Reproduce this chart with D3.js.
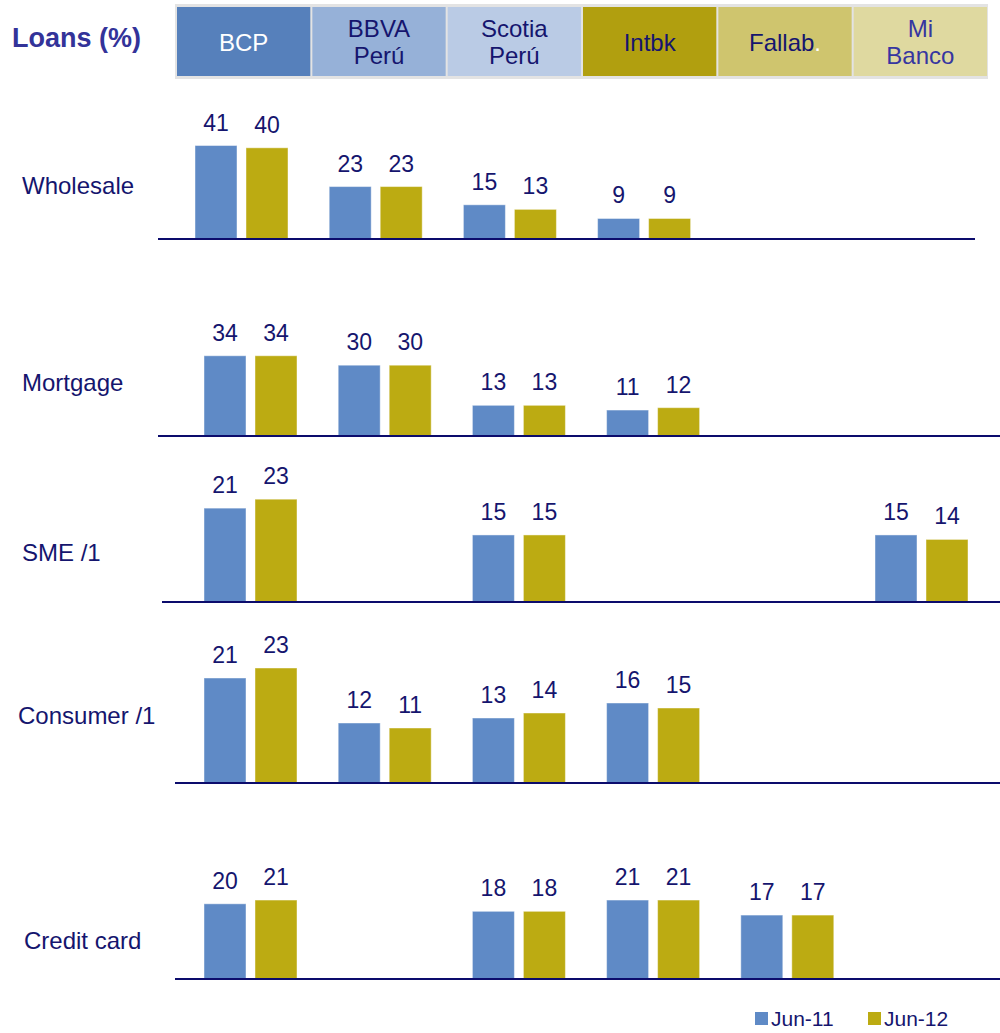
<!DOCTYPE html>
<html>
<head>
<meta charset="utf-8">
<script src="https://cdn.jsdelivr.net/npm/d3@7"></script>
<style>
  html, body { margin: 0; padding: 0; background: #fff; }
  svg { display: block; font-family: "Liberation Sans", Arial, sans-serif; }
</style>
</head>
<body>
<div id="chart"></div>
<script>
// banks in column order
const banks = ['BCP', 'BBVA Perú', 'Scotia Perú', 'Intbk', 'Fallab.', 'Mi Banco'];
const series = ['Jun-11', 'Jun-12'];
const segments = ['Wholesale', 'Mortgage', 'SME /1', 'Consumer /1', 'Credit card'];

// market share per bank (null = not shown)
const wholesaleJun11 = [41, 23, 15, 9, null, null];
const wholesaleJun12 = [40, 23, 13, 9, null, null];
const mortgageJun11 = [34, 30, 13, 11, null, null];
const mortgageJun12 = [34, 30, 13, 12, null, null];
const smeJun11 = [21, null, 15, null, null, 15];
const smeJun12 = [23, null, 15, null, null, 14];
const consumerJun11 = [21, 12, 13, 16, null, null];
const consumerJun12 = [23, 11, 14, 15, null, null];
const creditJun11 = [20, null, 18, 21, 17, null];
const creditJun12 = [21, null, 18, 21, 17, null];

const values = [
  [wholesaleJun11, wholesaleJun12],
  [mortgageJun11, mortgageJun12],
  [smeJun11, smeJun12],
  [consumerJun11, consumerJun12],
  [creditJun11, creditJun12]
];

const navy = '#15156e';
const barColors = ['#5f8ac6', '#bcab12'];
const headerFill = ['#5680bb', '#96b1d8', '#bacbe5', '#b19f0f', '#cfc56e', '#dfd9a0'];

// each row is its own little chart with its own scale
const rowLayout = [
  { baseline: 239, ppu: 2.28, shift: -9, x0: 158, x1: 975, lx: 22, ly: 194 },
  { baseline: 436, ppu: 2.36, shift: 0, x0: 158, x1: 1000, lx: 22, ly: 391 },
  { baseline: 602, ppu: 4.47, shift: 0, x0: 162, x1: 1000, lx: 22, ly: 561 },
  { baseline: 783, ppu: 5.0, shift: 0, x0: 175, x1: 1000, lx: 18, ly: 724 },
  { baseline: 979, ppu: 3.76, shift: 0, x0: 175, x1: 1000, lx: 24, ly: 949 }
];

const width = 1000, height = 1033;
const svg = d3.select('#chart').append('svg')
  .attr('width', width)
  .attr('height', height);

// header
svg.append('text')
  .attr('x', 12).attr('y', 47)
  .attr('fill', '#333399')
  .attr('font-size', 27).attr('font-weight', 'bold')
  .text('Loans (%)');

svg.append('rect')
  .attr('x', 175).attr('y', 4).attr('width', 813).attr('height', 75)
  .attr('fill', '#e3e3e3');

const headX = d3.scaleBand().domain(banks).range([177, 987]).paddingInner(0.015);

const head = svg.selectAll('.head').data(banks).join('g').attr('class', 'head');
head.append('rect')
  .attr('x', d => headX(d))
  .attr('y', 7)
  .attr('width', headX.bandwidth())
  .attr('height', 69)
  .attr('fill', (d, i) => headerFill[i]);

head.each(function(d, i) {
  const g = d3.select(this);
  const cx = headX(d) + headX.bandwidth() / 2;
  const color = i === 0 ? '#ffffff' : (i === 5 ? '#3636a0' : navy);
  const words = d.split(' ');
  const t = g.append('text')
    .attr('text-anchor', 'middle')
    .attr('font-size', 24)
    .attr('fill', color);
  if (d === 'Fallab.') {
    t.attr('x', cx).attr('y', 51);
    t.append('tspan').text('Fallab');
    t.append('tspan').attr('fill', '#ffffff').text('.');
  } else if (words.length === 1) {
    t.attr('x', cx).attr('y', 51).text(d);
  } else {
    words.forEach((w, k) => {
      t.append('tspan').attr('x', cx).attr('y', k === 0 ? 37 : 64).text(w);
    });
  }
});

// rows
const sub = d3.scaleBand().domain(series).range([0, 93]).paddingInner(9 / 51);

segments.forEach((seg, r) => {
  const lay = rowLayout[r];
  const x = d3.scaleBand().domain(banks)
    .range([204 + lay.shift, 204 + lay.shift + 6 * 134.2]);
  const y = d3.scaleLinear().domain([0, 50])
    .range([lay.baseline, lay.baseline - 50 * lay.ppu]);

  const g = svg.append('g').attr('class', 'row');

  g.append('text')
    .attr('x', lay.lx).attr('y', lay.ly)
    .attr('font-size', 24)
    .attr('fill', navy)
    .text(seg);

  const pts = [];
  banks.forEach((b, i) => {
    series.forEach((s, k) => {
      const v = values[r][k][i];
      if (v != null) pts.push({ bank: b, series: s, k, value: v });
    });
  });

  g.selectAll('rect.bar').data(pts).join('rect')
    .attr('class', 'bar')
    .attr('x', d => x(d.bank) + sub(d.series))
    .attr('y', d => y(d.value))
    .attr('width', sub.bandwidth())
    .attr('height', d => y(0) - y(d.value) + 1)
    .attr('fill', d => barColors[d.k])
    .attr('stroke', 'rgba(255,255,255,0.45)')
    .attr('stroke-width', 1);

  g.selectAll('text.val').data(pts).join('text')
    .attr('class', 'val')
    .attr('x', d => x(d.bank) + sub(d.series) + sub.bandwidth() / 2)
    .attr('y', d => y(d.value) - 15)
    .attr('text-anchor', 'middle')
    .attr('font-size', 23)
    .attr('fill', navy)
    .text(d => d.value);

  g.append('line')
    .attr('x1', lay.x0).attr('x2', lay.x1)
    .attr('y1', lay.baseline).attr('y2', lay.baseline)
    .attr('stroke', '#0c0c6c')
    .attr('stroke-width', 2);
});

// legend
const legend = svg.append('g').selectAll('g').data(series).join('g')
  .attr('transform', (d, i) => `translate(${755 + i * 113}, 1012)`);
legend.append('rect')
  .attr('width', 13).attr('height', 13)
  .attr('fill', (d, i) => barColors[i]);
legend.append('text')
  .attr('x', 16).attr('y', 14)
  .attr('font-size', 21)
  .attr('fill', navy)
  .text(d => d);
</script>
</body>
</html>
